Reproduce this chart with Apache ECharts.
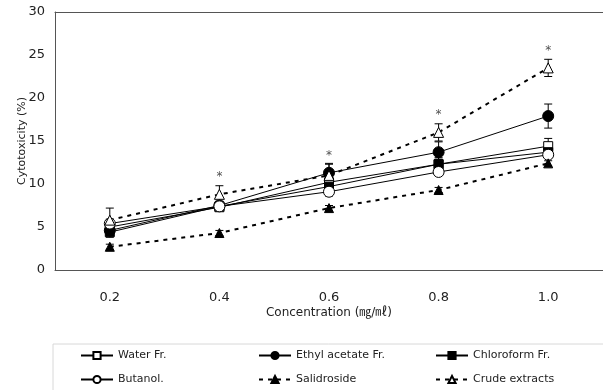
<!DOCTYPE html>
<html>
<head>
<meta charset="utf-8">
<script src="https://cdn.jsdelivr.net/npm/echarts@6/dist/echarts.min.js"></script>
<style>
    html, body { margin: 0; padding: 0; background: #fff; }
    #main { width: 603px; height: 390px; }
</style>
</head>
<body>
<div id="main"></div>
<script>
var concentrations = ['0.2', '0.4', '0.6', '0.8', '1.0'];

var waterFr = [5.0, 7.3, 10.2, 12.3, 14.4];
var waterErr = [0.6, 0.5, 0.6, 0.8, 0.9];
var ethylFr = [4.6, 7.5, 11.3, 13.7, 17.9];
var ethylErr = [0.5, 0.5, 1.1, 1.2, 1.4];
var chloroFr = [4.4, 7.4, 9.7, 12.3, 13.7];
var chloroErr = [0.6, 0.4, 0.5, 0.6, 0.5];
var butanol = [5.4, 7.4, 9.1, 11.4, 13.4];
var butanolErr = [0.5, 0.4, 0.5, 0.4, 0.4];
var salidroside = [2.7, 4.3, 7.2, 9.3, 12.4];
var salidrosideErr = [0.3, 0.3, 0.3, 0.3, 0.3];
var crude = [5.8, 8.8, 11.0, 16.0, 23.5];
var crudeErr = [1.4, 1.0, 1.3, 1.0, 1.0];
var sigMarks = ['', '*', '*', '*', '*'];

var font = "'DejaVu Sans', Verdana, 'Noto Sans CJK KR', sans-serif";

function errData(mean, err) {
    var out = [];
    for (var i = 0; i < mean.length; i++) {
        out.push([i, mean[i] - err[i], mean[i] + err[i]]);
    }
    return out;
}

function errBar(name, mean, err) {
    return {
        name: name + ' err',
        type: 'custom',
        z: 1,
        silent: true,
        data: errData(mean, err),
        renderItem: function (params, api) {
            var lo = api.coord([api.value(0), api.value(1)]);
            var hi = api.coord([api.value(0), api.value(2)]);
            var w = 4;
            var st = { stroke: '#000', lineWidth: 1 };
            return {
                type: 'group',
                children: [
                    { type: 'line', shape: { x1: lo[0], y1: lo[1], x2: hi[0], y2: hi[1] }, style: st },
                    { type: 'line', shape: { x1: lo[0] - w, y1: lo[1], x2: lo[0] + w, y2: lo[1] }, style: st },
                    { type: 'line', shape: { x1: hi[0] - w, y1: hi[1], x2: hi[0] + w, y2: hi[1] }, style: st }
                ]
            };
        }
    };
}

function lineSeries(name, data, symbol, fill, size, dashed) {
    return {
        name: name,
        type: 'line',
        z: 3,
        data: data,
        symbol: symbol,
        symbolSize: size,
        showAllSymbol: true,
        lineStyle: { color: '#000', width: dashed ? 2 : 1, type: dashed ? [4, 5] : 'solid' },
        itemStyle: { color: fill, borderColor: '#000', borderWidth: 1 },
        emphasis: { disabled: true }
    };
}

var starData = [];
for (var i = 0; i < crude.length; i++) {
    starData.push([i, crude[i] + crudeErr[i], sigMarks[i]]);
}

var legendPos = [
    ['Water Fr.', 80, 350], ['Ethyl acetate Fr.', 258, 350], ['Chloroform Fr.', 435, 350],
    ['Butanol.', 80, 374], ['Salidroside', 258, 374], ['Crude extracts', 435, 374]
];
var legends = legendPos.map(function (p) {
    return {
        data: [p[0]],
        left: p[1],
        top: p[2],
        padding: 0,
        itemWidth: 32,
        itemHeight: 9,
        selectedMode: false,
        textStyle: { fontFamily: font, fontSize: 11, color: '#222' }
    };
});

var chart = echarts.init(document.getElementById('main'));
chart.setOption({
    animation: false,
    backgroundColor: '#fff',
    grid: { left: 55, right: -4, top: 12, bottom: 120 },
    legend: legends,
    graphic: [{
        type: 'rect',
        shape: { x: 53, y: 344, width: 580, height: 80 },
        style: { fill: 'none', stroke: '#d8d8d8', lineWidth: 1 },
        silent: true
    }],
    xAxis: [{
        type: 'category',
        data: concentrations,
        name: 'Concentration (㎎/㎖)',
        nameLocation: 'middle',
        nameGap: 37,
        nameMoveOverlap: false,
        nameTextStyle: { fontFamily: font, fontSize: 12, color: '#222' },
        axisLine: { lineStyle: { color: '#555' } },
        axisTick: { show: false },
        axisLabel: { fontFamily: font, fontSize: 13, color: '#222', margin: 21 }
    }, {
        type: 'category',
        data: concentrations,
        position: 'top',
        axisLine: { show: true, lineStyle: { color: '#555' } },
        axisTick: { show: false },
        axisLabel: { show: false }
    }],
    yAxis: {
        type: 'value',
        min: 0,
        max: 30,
        interval: 5,
        name: 'Cytotoxicity (%)',
        nameLocation: 'middle',
        nameGap: 27,
        nameMoveOverlap: false,
        nameTextStyle: { fontFamily: font, fontSize: 11, color: '#222' },
        axisLine: { show: true, lineStyle: { color: '#555' } },
        axisTick: { show: false },
        splitLine: { show: false },
        axisLabel: { fontFamily: font, fontSize: 13, color: '#222', margin: 10 }
    },
    series: [
        errBar('Water Fr.', waterFr, waterErr),
        errBar('Ethyl acetate Fr.', ethylFr, ethylErr),
        errBar('Chloroform Fr.', chloroFr, chloroErr),
        errBar('Butanol.', butanol, butanolErr),
        errBar('Salidroside', salidroside, salidrosideErr),
        errBar('Crude extracts', crude, crudeErr),
        lineSeries('Water Fr.', waterFr, 'rect', '#fff', 9, false),
        lineSeries('Ethyl acetate Fr.', ethylFr, 'circle', '#000', 11, false),
        lineSeries('Chloroform Fr.', chloroFr, 'rect', '#000', 9, false),
        lineSeries('Butanol.', butanol, 'circle', '#fff', 11, false),
        lineSeries('Salidroside', salidroside, 'triangle', '#000', 9, true),
        lineSeries('Crude extracts', crude, 'triangle', '#fff', 10, true),
        {
            name: 'sig',
            type: 'scatter',
            z: 4,
            silent: true,
            symbolSize: 1,
            itemStyle: { color: 'rgba(0,0,0,0)' },
            data: starData,
            label: {
                show: true,
                position: 'top',
                distance: 2,
                formatter: function (p) { return p.data[2]; },
                fontFamily: font,
                fontSize: 12,
                color: '#222'
            }
        }
    ]
});
</script>
</body>
</html>
